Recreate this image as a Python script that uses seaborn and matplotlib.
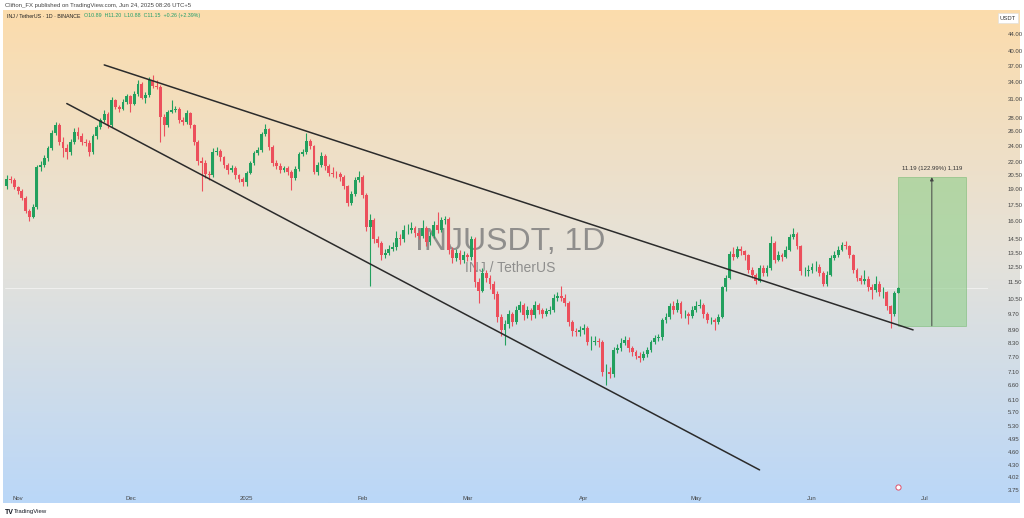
import numpy as np
import pandas as pd
import matplotlib
matplotlib.use("Agg")
import matplotlib.pyplot as plt
import matplotlib.dates as mdates
from matplotlib.ticker import NullLocator
import seaborn as sns

# INJ/USDT daily candles, Oct 29 2024 -> Jun 24 2025
last_day = "2025-06-24"
first_open = 19.3
closes = [
    20.1, 20.0, 19.2, 18.8, 18.1, 16.9, 16.4, 17.3, 21.4, 21.7,
    22.5, 23.7, 25.8, 26.9, 24.6, 23.8, 23.2, 24.6, 25.9, 25.3,
    24.6, 24.4, 23.2, 25.3, 26.6, 27.6, 28.5, 26.9, 30.8, 29.7,
    29.4, 30.5, 31.4, 30.2, 31.8, 33.6, 31.2, 31.6, 34.2, 33.2,
    33.0, 28.1, 26.9, 28.9, 29.2, 29.4, 27.6, 27.3, 28.7, 26.9,
    24.6, 22.1, 21.9, 20.6, 20.5, 23.2, 23.4, 22.6, 21.7, 21.1,
    21.3, 20.5, 20.1, 19.8, 20.8, 21.9, 23.1, 23.5, 25.6, 26.3,
    23.9, 21.9, 21.6, 21.1, 21.3, 20.9, 20.2, 21.2, 23.0, 23.2,
    24.7, 24.0, 20.9, 21.7, 22.8, 21.5, 20.8, 20.7, 20.6, 20.3,
    19.3, 17.7, 18.5, 20.0, 20.3, 18.4, 15.5, 16.1, 14.5, 14.2,
    13.3, 13.5, 13.8, 13.9, 14.6, 14.5, 15.3, 15.3, 15.4, 15.0,
    14.8, 15.4, 14.3, 14.8, 15.7, 15.3, 16.1, 16.2, 13.7, 13.1,
    13.5, 13.0, 13.3, 13.2, 14.5, 11.5, 11.0, 12.1, 11.8, 11.4,
    10.8, 9.55, 8.9, 9.2, 9.7, 9.3, 9.9, 10.2, 9.65, 9.9,
    9.65, 10.2, 9.9, 9.7, 9.85, 9.9, 10.6, 10.7, 10.6, 10.3,
    9.3, 8.85, 8.8, 8.9, 9.0, 8.35, 8.35, 8.4, 8.35, 7.1,
    7.1, 7.0, 8.0, 8.05, 8.3, 8.45, 8.05, 7.9, 7.75, 7.65,
    7.8, 8.0, 8.35, 8.5, 8.55, 9.4, 9.55, 10.1, 9.9, 10.3,
    9.7, 9.7, 9.6, 9.9, 10.1, 10.2, 9.7, 9.4, 9.4, 9.3,
    9.55, 11.2, 11.8, 13.4, 13.2, 13.8, 13.6, 13.3, 12.3, 12.0,
    11.6, 12.4, 12.1, 12.4, 14.2, 13.0, 13.3, 13.2, 13.7, 14.7,
    14.9, 14.0, 12.2, 12.2, 12.3, 12.5, 12.5, 12.1, 11.4, 12.0,
    13.1, 13.3, 13.7, 14.1, 14.0, 13.3, 12.3, 11.8, 11.6, 11.7,
    11.2, 11.05, 11.4, 10.9, 10.9, 10.1, 9.7, 10.89, 11.15,
]
highs = [
    20.5, 20.4, 20.2, 19.4, 19.0, 18.3, 17.1, 17.6, 21.7, 22.2,
    22.9, 24.0, 26.2, 27.3, 27.2, 25.2, 24.3, 24.9, 26.4, 26.6,
    25.7, 25.0, 24.8, 25.6, 26.9, 28.0, 29.2, 28.9, 31.3, 31.0,
    30.0, 30.9, 31.8, 31.6, 32.3, 34.2, 33.9, 32.2, 34.9, 35.2,
    34.3, 33.4, 28.6, 29.2, 30.8, 29.8, 29.6, 28.1, 29.2, 28.9,
    27.1, 24.8, 22.6, 22.3, 21.0, 23.7, 23.9, 23.6, 22.8, 21.9,
    21.7, 21.5, 20.7, 20.3, 21.0, 22.1, 23.4, 23.9, 25.9, 27.0,
    26.5, 24.1, 22.3, 21.9, 21.6, 21.6, 21.1, 21.5, 23.3, 23.6,
    25.8, 25.0, 24.2, 22.0, 23.2, 23.0, 21.8, 21.4, 21.0, 20.9,
    20.5, 19.5, 18.8, 20.3, 21.0, 20.5, 18.6, 16.6, 16.3, 14.8,
    14.4, 13.8, 14.1, 14.3, 15.2, 14.9, 15.7, 15.8, 15.9, 15.6,
    15.3, 16.1, 15.6, 15.1, 16.0, 16.8, 16.4, 16.5, 16.4, 13.9,
    13.8, 13.7, 13.6, 13.5, 14.8, 14.7, 11.8, 12.4, 12.3, 12.0,
    11.6, 11.0, 9.7, 9.4, 9.9, 9.8, 10.1, 10.4, 10.3, 10.1,
    10.0, 10.4, 10.3, 10.0, 10.0, 10.1, 10.8, 10.9, 11.3, 10.8,
    10.4, 9.4, 9.0, 9.1, 9.2, 9.1, 8.6, 8.6, 8.5, 8.45,
    7.4, 7.3, 8.1, 8.25, 8.5, 8.6, 8.55, 8.15, 8.0, 7.9,
    7.95, 8.1, 8.45, 8.65, 8.7, 9.5, 9.75, 10.3, 10.4, 10.5,
    10.4, 9.9, 9.8, 10.1, 10.4, 10.5, 10.3, 9.8, 9.55, 9.5,
    9.7, 11.3, 12.0, 13.6, 13.9, 14.0, 14.0, 13.7, 13.4, 12.5,
    12.1, 12.6, 12.6, 12.6, 14.8, 14.4, 13.6, 13.5, 14.0, 14.9,
    15.4, 15.1, 14.1, 12.5, 12.6, 12.8, 12.9, 12.7, 12.2, 12.2,
    13.3, 13.6, 14.0, 14.3, 14.4, 14.1, 13.4, 12.4, 12.0, 12.3,
    11.9, 11.4, 11.9, 11.6, 11.2, 11.0, 10.2, 11.0, 11.20,
]
lows = [
    19.0, 19.7, 19.0, 18.5, 17.9, 16.7, 16.0, 16.3, 17.1, 21.0,
    21.4, 22.2, 23.5, 25.5, 24.2, 22.6, 22.4, 22.9, 24.3, 24.9,
    24.2, 24.0, 22.8, 23.0, 25.0, 26.3, 27.3, 26.5, 26.6, 29.3,
    28.9, 29.1, 30.2, 28.8, 29.9, 31.5, 30.9, 30.3, 31.3, 32.9,
    32.6, 24.6, 25.3, 26.6, 28.7, 28.9, 27.2, 26.9, 27.0, 26.5,
    24.2, 21.7, 18.8, 20.2, 20.0, 20.3, 22.9, 22.2, 21.3, 20.7,
    20.9, 20.1, 19.8, 19.4, 19.4, 20.6, 21.7, 22.9, 23.3, 25.3,
    23.5, 21.6, 21.2, 20.8, 20.9, 20.5, 18.9, 20.0, 21.0, 22.7,
    23.0, 23.6, 20.6, 20.5, 21.4, 21.1, 20.4, 20.3, 20.2, 19.9,
    19.0, 17.4, 17.5, 18.3, 19.8, 18.1, 15.2, 11.3, 14.2, 13.9,
    13.0, 13.1, 13.3, 13.6, 13.7, 14.1, 14.3, 14.9, 15.0, 14.7,
    14.5, 14.6, 14.0, 14.1, 14.6, 15.0, 15.1, 15.8, 13.4, 12.8,
    12.9, 12.7, 12.8, 12.9, 13.0, 11.2, 10.3, 10.9, 11.5, 11.1,
    10.5, 9.3, 8.6, 8.2, 9.0, 9.1, 9.2, 9.8, 9.4, 9.5,
    9.4, 9.5, 9.7, 9.5, 9.6, 9.7, 9.8, 10.4, 10.4, 10.1,
    9.1, 8.6, 8.6, 8.6, 8.7, 8.2, 8.0, 8.2, 8.1, 6.95,
    6.6, 6.85, 6.9, 7.85, 7.95, 8.2, 7.9, 7.75, 7.6, 7.5,
    7.55, 7.7, 7.9, 8.25, 8.4, 8.45, 9.25, 9.45, 9.7, 9.8,
    9.5, 9.5, 9.2, 9.5, 9.8, 10.0, 9.5, 9.25, 9.2, 8.9,
    9.2, 9.5, 11.0, 11.7, 13.0, 13.1, 13.3, 13.0, 12.1, 11.8,
    11.4, 11.5, 11.9, 11.9, 12.3, 12.8, 12.9, 12.9, 13.1, 13.6,
    14.5, 13.8, 12.0, 11.9, 11.9, 12.1, 12.2, 11.9, 11.3, 11.3,
    11.9, 13.0, 13.2, 13.6, 13.8, 13.1, 12.1, 11.6, 11.4, 11.4,
    11.0, 10.5, 10.9, 10.7, 10.6, 9.9, 9.0, 9.6, 10.88,
]

# drawn trendlines (falling wedge) and the measured target box
upper_dates = ["2024-11-24", "2025-06-28"]
upper_prices = [37.2, 8.9]
lower_dates = ["2024-11-14", "2025-05-18"]
lower_prices = [30.2, 4.18]
box_dates = ["2025-06-24", "2025-07-12"]
box_prices = [9.1, 20.3]
box_label = "11.19 (122.99%) 1,119"

ytick_vals = [44, 40, 37, 34, 31, 28, 26, 24, 22, 20.5, 19, 17.5, 16, 14.5, 13.5,
              12.5, 11.5, 10.5, 9.7, 8.9, 8.3, 7.7, 7.1, 6.6, 6.1, 5.7, 5.3, 4.95,
              4.6, 4.3, 4.02, 3.75]
xtick_dates = ["2024-11-01", "2024-12-01", "2025-01-01", "2025-02-01", "2025-03-01",
               "2025-04-01", "2025-05-01", "2025-06-01", "2025-07-01"]
xtick_labels = ["Nov", "Dec", "2025", "Feb", "Mar", "Apr", "May", "Jun", "Jul"]

UP = "#22a05e"
DOWN = "#ec4f5c"

sns.set_theme(style="white")
plt.rcParams["font.family"] = ["Liberation Sans", "DejaVu Sans"]

dates = pd.date_range(end=last_day, periods=len(closes), freq="D")
xs = mdates.date2num(dates)
opens = [first_open] + closes[:-1]
df = pd.DataFrame({"x": xs, "open": opens, "close": closes, "high": highs, "low": lows})
df["up"] = df["close"] >= df["open"]
df["color"] = np.where(df["up"], UP, DOWN)

W, H = 1024, 518
fig = plt.figure(figsize=(W / 100, H / 100), dpi=100)

# gradient background of the chart panel
bg = fig.add_axes([3 / W, 1 - 503 / H, 1017 / W, 493 / H])
top = np.array([252, 220, 172]) / 255
mid = np.array([229, 226, 218]) / 255
bot = np.array([186, 215, 248]) / 255
t = np.linspace(0, 1, 300)[:, None]
grad = np.where(t < 0.5, top + (mid - top) * (t / 0.5), mid + (bot - mid) * ((t - 0.5) / 0.5))
bg.imshow(grad[:, None, :], aspect="auto", extent=[0, 1, 0, 1])
bg.axis("off")

ax = fig.add_axes([5 / W, 1 - 492 / H, 983 / W, 480 / H])
ax.patch.set_alpha(0)
ax.set_yscale("log")

# wicks and bodies
ax.vlines(df["x"], df["low"], df["high"], colors=df["color"], lw=0.8, zorder=3)
body_lo = df[["open", "close"]].min(axis=1)
body_hi = df[["open", "close"]].max(axis=1)
ax.bar(df["x"], body_hi - body_lo, bottom=body_lo, width=0.76, color=df["color"],
       linewidth=0, zorder=4)

# last price line
ax.axhline(closes[-1], color="white", lw=0.6, alpha=0.6, zorder=1)

# wedge lines
for d, p in [(upper_dates, upper_prices), (lower_dates, lower_prices)]:
    sns.lineplot(x=mdates.date2num(pd.to_datetime(d)), y=p, ax=ax, color="#2b2b2b",
                 lw=1.1, zorder=5, legend=False)

# target box
bx = mdates.date2num(pd.to_datetime(box_dates))
ax.fill_between(bx, box_prices[0], box_prices[1], color="#8fcf8a", alpha=0.6,
                lw=0.6, edgecolor="#74b870", zorder=2)
xm = bx.mean()
ax.annotate("", xy=(xm, box_prices[1]), xytext=(xm, box_prices[0]),
            arrowprops=dict(arrowstyle="-|>", color="#444444", lw=0.7,
                            mutation_scale=5, shrinkA=0, shrinkB=0), zorder=6)
ax.text(xm, box_prices[1] * 1.035, box_label, ha="center", va="bottom",
        fontsize=4.3, color="#333333", zorder=6)

# watermark
ax.text(0.514, 0.521, "INJUSDT, 1D", transform=ax.transAxes, ha="center", va="center",
        fontsize=23, color="#7a7a7a", alpha=0.8, zorder=2)
ax.text(0.514, 0.467, "INJ / TetherUS", transform=ax.transAxes, ha="center", va="center",
        fontsize=10, color="#7a7a7a", alpha=0.8, zorder=2)

# axes
ax.set_xlim(mdates.date2num(pd.Timestamp("2024-10-28 12:00")),
            mdates.date2num(pd.Timestamp("2025-07-18")))
ax.set_ylim(3.71, 49.5)
ax.yaxis.tick_right()
ax.set_yticks(ytick_vals)
ax.set_yticklabels([f"{v:.2f}" for v in ytick_vals])
ax.yaxis.set_minor_locator(NullLocator())
ax.set_xticks(mdates.date2num(pd.to_datetime(xtick_dates)))
ax.set_xticklabels(xtick_labels)
ax.tick_params(axis="y", length=0, pad=14, labelsize=4.3, labelcolor="#444444")
ax.tick_params(axis="x", length=0, pad=3, labelsize=4.3, labelcolor="#444444")
for s in ax.spines.values():
    s.set_visible(False)
ax.grid(False)

# small event marker near the time axis
ax.scatter([mdates.date2num(pd.Timestamp("2025-06-24"))], [3.82], s=14, facecolor="white",
           edgecolor="#e0506a", lw=0.7, zorder=6, clip_on=False)

# header / footer texts
fig.text(5 / W, 1 - 5 / H, "Clifton_FX published on TradingView.com, Jun 24, 2025 08:26 UTC+5",
         fontsize=4.3, color="#444444", va="center", ha="left")
fig.text(7 / W, 1 - 16 / H, "INJ / TetherUS \u00b7 1D \u00b7 BINANCE", fontsize=3.8,
         color="#222222", va="center", ha="left")
fig.text(84 / W, 1 - 16 / H, "O10.89  H11.20  L10.88  C11.15  +0.26 (+2.39%)", fontsize=3.8,
         color="#1f9d6a", va="center", ha="left")
fig.text(1008 / W, 1 - 18 / H, "USDT", fontsize=4.2, color="#333333", va="center", ha="center",
         bbox=dict(boxstyle="square,pad=0.35", fc="white", ec="#dddddd", lw=0.4))
fig.text(5 / W, 1 - 512 / H, "TV", fontsize=5, fontweight="bold", color="#131722",
         va="center", ha="left")
fig.text(14 / W, 1 - 512 / H, "TradingView", fontsize=4.3, color="#131722",
         va="center", ha="left")

fig.savefig("out.png", dpi=100)
